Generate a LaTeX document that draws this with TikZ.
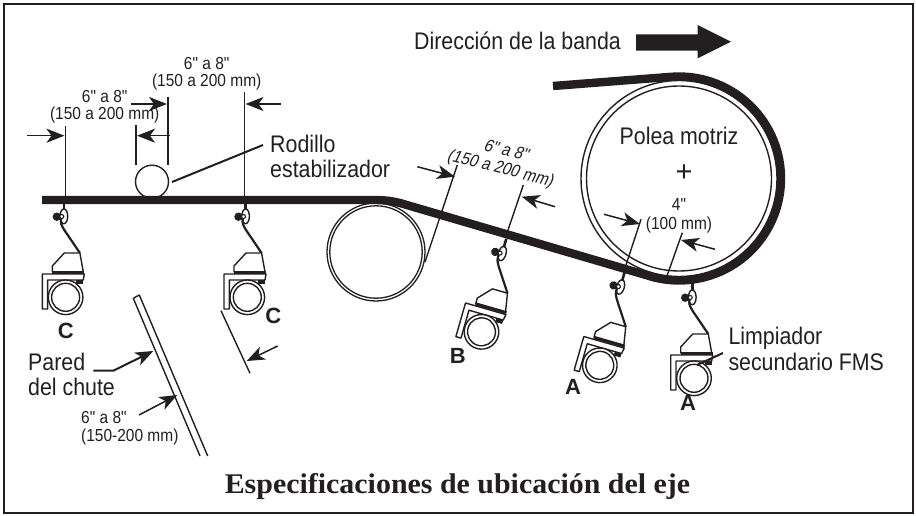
\documentclass[tikz,border=0pt]{standalone}
\usepackage{fontspec}
\setmainfont{Liberation Sans}
\newfontfamily\titlefont[FakeStretch=1.05]{Liberation Serif}
\newfontfamily\cond[FakeStretch=.89]{Liberation Sans}
\newfontfamily\condsl[FakeStretch=.88,FakeSlant=.2]{Liberation Sans}
\usetikzlibrary{arrows.meta}
\definecolor{ink}{HTML}{231F20}
\tikzset{
  dim/.style={ink,line width=1.4pt},
  dimarrow/.style={ink,line width=1.5pt,-{Stealth[length=18pt,width=14pt,inset=5pt]}},
  leader/.style={ink,line width=2pt},
  big/.style={font=\fontsize{24}{24}\selectfont\cond,text=ink,inner sep=0pt},
  small/.style={font=\fontsize{17.4}{17.4}\selectfont\cond,text=ink,inner sep=0pt},
  smallsl/.style={font=\fontsize{17.4}{17.4}\selectfont\condsl,text=ink,inner sep=0pt},
  letter/.style={font=\fontsize{22}{22}\selectfont\bfseries,text=ink,inner sep=0pt},
  belt/.style={ink,line width=8.4pt,line join=round},
  cleaner/.pic={
    % clip to belt, bolt and hook
    \draw[ink,line width=2.6pt] (0.5,-3) -- (0.5,6);
    \draw[ink,line width=1.4pt] (0.6,12.3) ellipse[x radius=3.8,y radius=7.4];
    \fill[ink] (-6.5,12.7) circle[radius=4.2];
    \draw[ink,line width=1.1pt,fill=white] (-1.5,12.5) circle[radius=2];
    % stem
    \draw[ink,line width=2.2pt] (-2.2,15) .. controls (-3,19) and (-2,21) .. (1,26) -- (16.6,49);
    % body
    \draw[ink,line width=1.4pt,fill=white,line join=round] (-11,68) -- (-11,62) -- (1,49) -- (16.6,49) -- (20,68) -- cycle;
    \draw[ink,line width=3pt] (-11,68) -- (21,68);
    % bracket
    \draw[ink,line width=1.4pt,fill=white,line join=round] (-21,70) -- (21,70) -- (20,76) -- (-15.7,76) -- (-15.7,105) -- (-21,105) -- cycle;
    \fill[ink] (13,76) rectangle (20,80);
    % roller
    \draw[ink,line width=1.4pt,fill=white] (2.3,93.3) circle[radius=17.3];
    \draw[ink,line width=1.4pt,fill=white] (2.3,93.3) circle[radius=14];
  }
}
\begin{document}
\begin{tikzpicture}[x=1pt,y=-1pt]
\useasboundingbox (0,0) rectangle (916,516);
\fill[white] (0,0) rectangle (916,516);
\draw[ink,line width=2.6pt] (4,4) rectangle (913,513);

% rollers
\draw[ink,line width=1.3pt] (376,252) circle[radius=49];
\draw[ink,line width=1.3pt] (376,252) circle[radius=46.2];
\draw[ink,line width=1.4pt] (152,181.7) circle[radius=16.5];
\draw[ink,line width=1.4pt] (679,178.5) circle[radius=98];
\draw[ink,line width=1.4pt] (679,178.5) circle[radius=92.5];

% belt
\draw[belt] (42,200) -- (358,200) .. controls (376,200) and (386,199.4) .. (400,203) -- (651,276.5)
  -- plot[domain=105.9:-94.4,samples=90] ({679+102*cos(\x)},{178.5+102*sin(\x)}) -- (553,86);

% cleaners
\pic at (63.3,204) {cleaner};
\pic at (245,204) {cleaner};
\pic[rotate=-16] at (505,241.5) {cleaner};
\pic[rotate=-16] at (623.3,275) {cleaner};
\pic at (691.7,285) {cleaner};

% dimension lines
\draw[dim] (65.5,126) -- (65.5,196);
\draw[dim] (136,125) -- (136,165);
\draw[dim] (168,97) -- (168,165);
\draw[dim] (244.5,92) -- (244.5,196);
\draw[dim] (457.3,165) -- (425,262);
\draw[dim] (523.3,185) -- (507,233);
\draw[dim] (641,219.3) -- (625,268);
\draw[dim] (682.3,232.7) -- (667.3,275);
\draw[dim] (221,310.7) -- (250,373.3);

\draw[dimarrow] (27,135.7) -- (64.5,135.7);
\draw[dimarrow] (131,104) -- (167,104);
\draw[dimarrow] (170,135.7) -- (137,135.7);
\draw[dimarrow] (281,104) -- (245.5,104);
\draw[dimarrow] (417.3,166.7) -- (455,176.7);
\draw[dimarrow] (555,206.7) -- (521.7,196.7);
\draw[dimarrow] (604,214.3) -- (640,224);
\draw[dimarrow] (715,249.3) -- (681,240);
\draw[dimarrow] (277.7,346) -- (246.7,361);
\draw[dimarrow] (139,415) -- (177.3,395);

% chute wall
\draw[ink,line width=1.4pt,line join=round] (200,456) -- (133.3,298.3) -- (139.3,295) -- (207.7,456);

% leaders
\draw[leader] (172,182) -- (263,145);
\draw[leader] (723,353) -- (697,365);
\draw[ink,line width=2pt,-{Stealth[length=18pt,width=14pt,inset=5pt]}] (93.3,370.7) -- (113.3,370.7) -- (153.3,351);

% big arrow
\fill[ink] (636,34.3) -- (697.7,34.3) -- (697.7,25) -- (731,41.7) -- (697.7,58.3) -- (697.7,50.7) -- (636,50.7) -- cycle;

% labels
\node[big,anchor=west] (dir) at (414,41) {Dirección de la banda};
\node[big] (polea) at (679,136) {Polea motriz};
\node[big,font=\fontsize{29}{29}\selectfont] (plus) at (684,172.7) {+};
\node[small] (d4a) at (679,205) {4"};
\node[small] (d4b) at (679,225) {(100 mm)};
\node[small] (d1a) at (104.7,96.7) {6" a 8"};
\node[small] (d1b) at (104.7,115) {(150 a 200 mm)};
\node[small] (d2a) at (206.7,64) {6" a 8"};
\node[small] (d2b) at (206.7,82.3) {(150 a 200 mm)};
\node[smallsl,rotate=-14] (d3a) at (506,150) {6" a 8"};
\node[smallsl,rotate=-14] (d3b) at (500,169) {(150 a 200 mm)};
\node[big,anchor=west] (rod) at (270,144) {Rodillo};
\node[big,anchor=west] (est) at (270,169) {estabilizador};
\node[big,anchor=west] (lim) at (728.3,338) {Limpiador};
\node[big,anchor=west] (sec) at (728.3,362) {secundario FMS};
\node[big,anchor=west] (par) at (28,362) {Pared};
\node[big,anchor=west] (del) at (28,387) {del chute};
\node[small,anchor=west] (d5a) at (81,417.5) {6" a 8"};
\node[small,anchor=west] (d5b) at (81,436.7) {(150-200 mm)};
\node[letter] (c1) at (65.7,330.7) {C};
\node[letter] (c2) at (273.3,316) {C};
\node[letter] (b1) at (457.7,355.7) {B};
\node[letter] (a1) at (573,386.7) {A};
\node[letter] (a2) at (688,403) {A};
\node[text=ink,inner sep=0pt,font=\fontsize{28.5}{28.5}\selectfont\titlefont\bfseries] (title) at (457.5,486) {Especificaciones de ubicación del eje};
\end{tikzpicture}
\end{document}
